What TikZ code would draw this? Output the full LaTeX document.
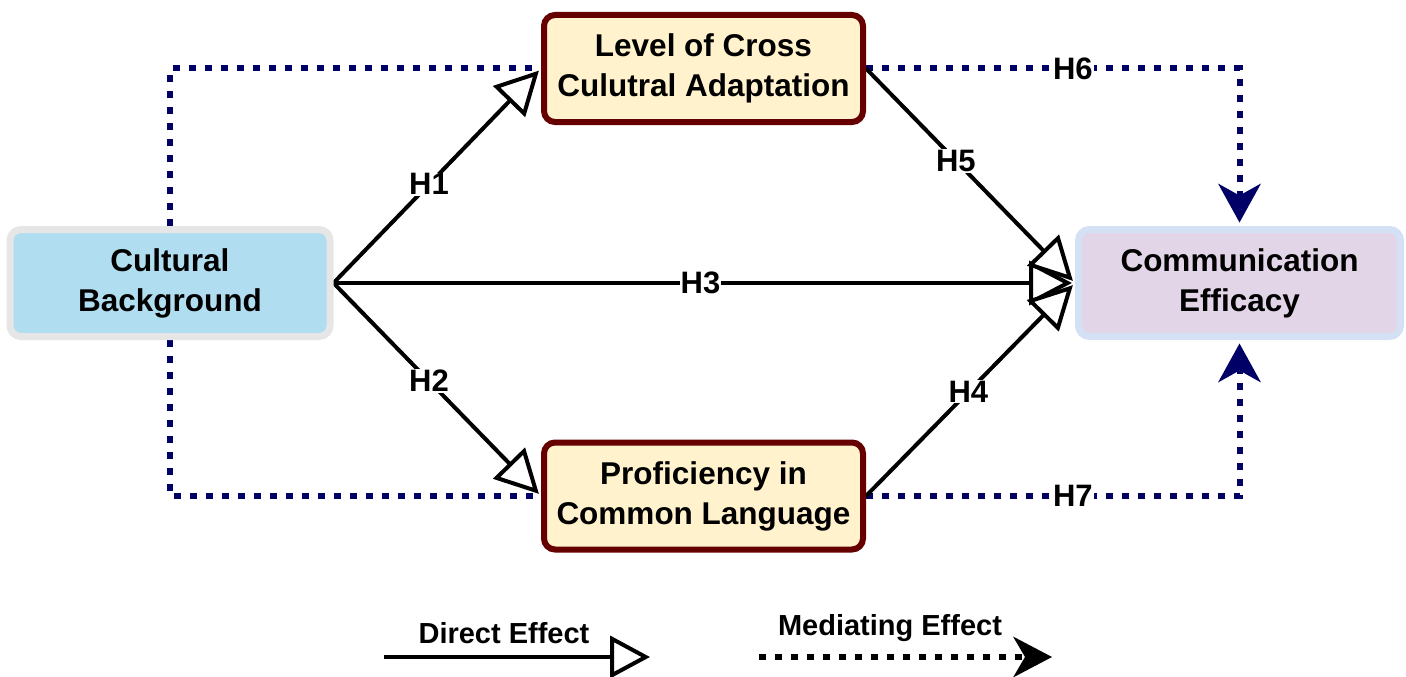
\documentclass[tikz,border=0pt]{standalone}
\usepackage{fontspec}
\setmainfont{Liberation Sans}
\usetikzlibrary{arrows.meta}
\definecolor{navy}{HTML}{000066}
\definecolor{cbfill}{HTML}{B1DDF0}
\definecolor{cbdraw}{HTML}{E6E6E6}
\definecolor{medfill}{HTML}{FFF2CC}
\definecolor{meddraw}{HTML}{660000}
\definecolor{outfill}{HTML}{E1D5E7}
\definecolor{outdraw}{HTML}{D4E1F5}
\pgfdeclarelayer{bg}
\pgfsetlayers{bg,main}
\tikzset{
  box/.style={rectangle, rounded corners=11pt, minimum width=319pt, minimum height=107pt,
    align=center, inner sep=0pt, font=\fontsize{31.5}{40}\selectfont\bfseries},
  cbbox/.style={box, draw=cbdraw, fill=cbfill, line width=7pt, minimum width=320pt},
  medbox/.style={box, draw=meddraw, fill=medfill, line width=6pt},
  outbox/.style={box, draw=outdraw, fill=outfill, line width=7pt, minimum width=322pt},
  direct/.style={black, line width=4pt, shorten >=3pt,
    -{Triangle[fill=white, length=43pt, width=44pt]}},
  mediating/.style={navy, line width=6pt, dash pattern=on 7pt off 9pt},
  medarrow/.style={mediating, shorten >=3.5pt,
    -{Stealth[length=39pt, width=43pt, inset=12pt, line width=0pt]}},
  lab/.style={fill=white, text=black, inner sep=1pt, font=\fontsize{31}{32}\selectfont\bfseries},
  legfont/.style={inner sep=0pt, font=\fontsize{29}{30}\selectfont\bfseries},
}
\begin{document}
\begin{tikzpicture}[x=1pt, y=-1pt]
\useasboundingbox (0,0) rectangle (1406,677);
\node[cbbox] (cb) at (170,283) {Cultural\\Background};
\node[medbox] (lev) at (703.5,68.5) {Level of Cross\\Culutral Adaptation};
\node[medbox] (prof) at (703.5,496) {Proficiency in\\Common Language};
\node[outbox] (comm) at (1239.5,283) {Communication\\Efficacy};
\node[legfont] (dl) at (504,633) {Direct Effect};
\node[legfont] (ml) at (890,628) {Mediating Effect};
\coordinate (d1) at (384,657);
\coordinate (d2) at (650,657);
\coordinate (m1) at (759,657);
\coordinate (m2) at (1052,657);
\begin{pgfonlayer}{bg}
\fill[white] (0,0) rectangle (1406,677);
\draw[mediating] (cb.north) |- (lev.west);
\draw[mediating] (cb.south) |- (prof.west);
\draw[medarrow] (lev.east) -| node[lab, pos=0.277] {H6} (comm.north);
\draw[medarrow] (prof.east) -| node[lab, pos=0.277] {H7} (comm.south);
\draw[direct] (cb.east) -- node[lab, pos=0.46] {H1} (lev.west);
\draw[direct] (cb.east) -- node[lab, pos=0.46] {H2} (prof.west);
\draw[direct] (cb.east) -- node[lab, pos=0.495] {H3} (comm.west);
\draw[direct] (lev.east) -- node[lab, pos=0.43] {H5} (comm.west);
\draw[direct] (prof.east) -- node[lab, pos=0.49] {H4} (comm.west);
\draw[black, line width=4pt, -{Triangle[fill=white, length=40pt, width=42pt]}] (d1) -- (d2);
\draw[black, line width=6pt, dash pattern=on 7pt off 9pt,
  -{Stealth[length=39pt, width=41pt, inset=12pt, line width=0pt]}] (m1) -- (m2);
\end{pgfonlayer}
\end{tikzpicture}
\end{document}
